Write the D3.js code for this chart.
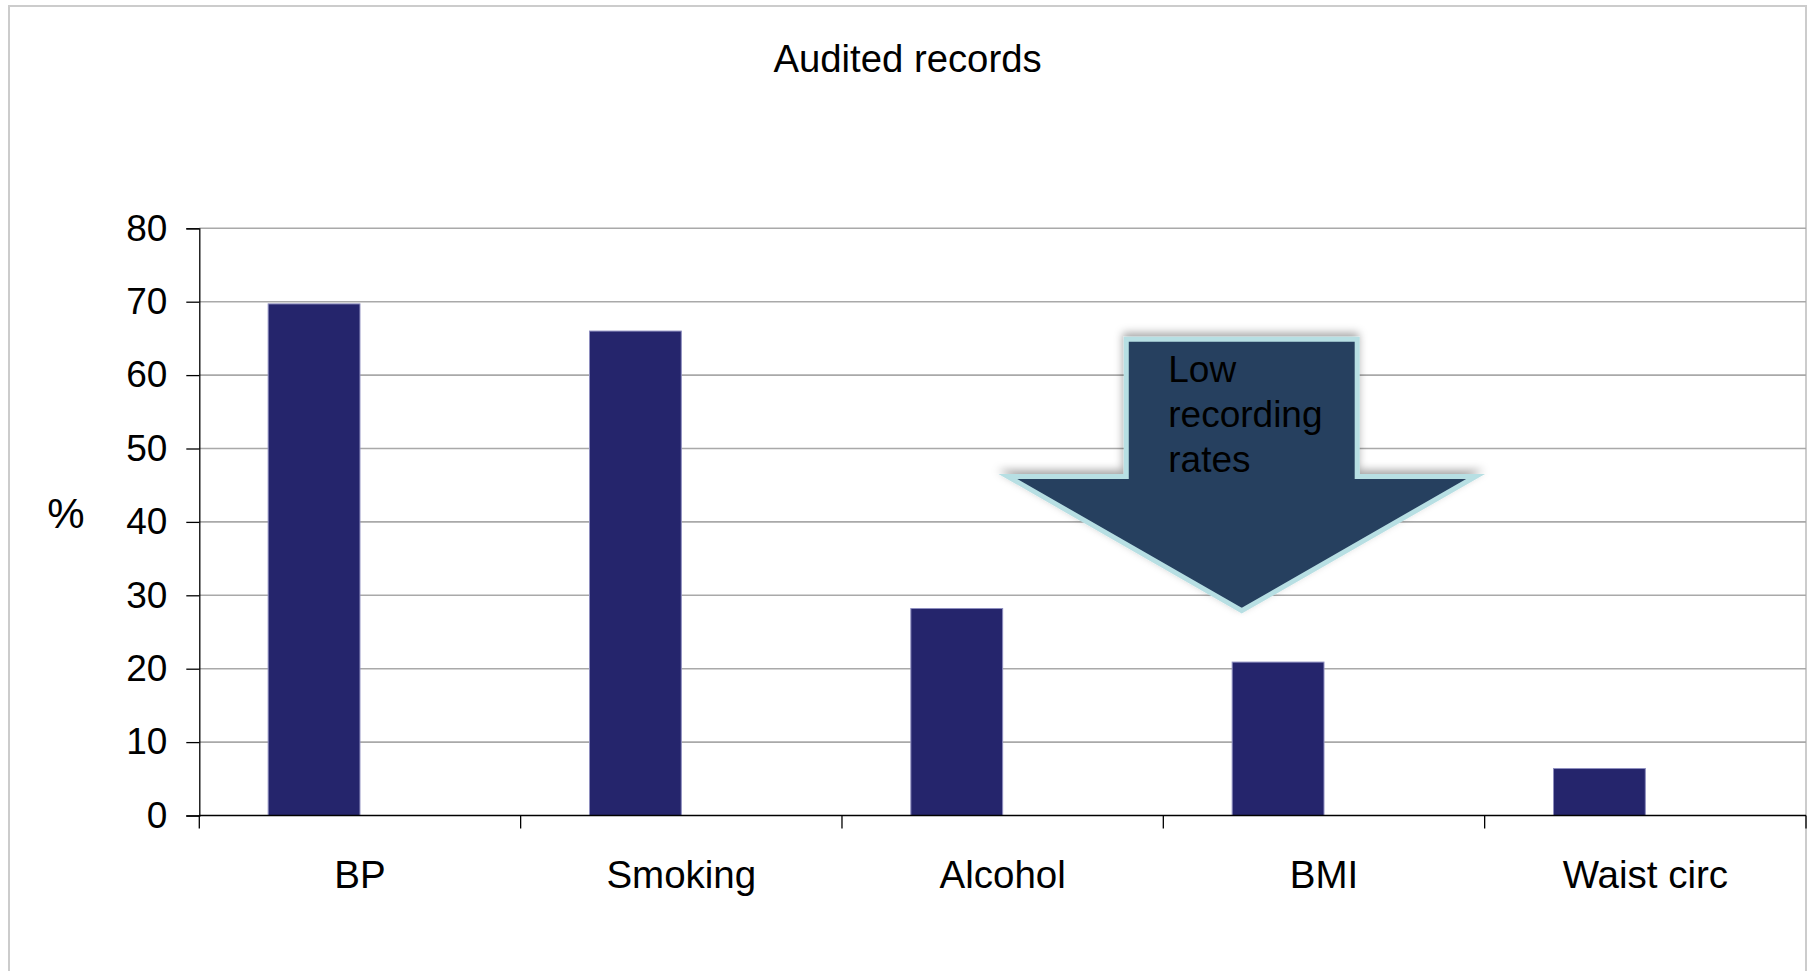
<!DOCTYPE html>
<html>
<head>
<meta charset="utf-8">
<script src="https://cdn.jsdelivr.net/npm/d3@7"></script>
<style>
  html, body { margin: 0; padding: 0; background: #ffffff; }
  svg { display: block; font-family: "Liberation Sans", Arial, sans-serif; }
</style>
</head>
<body>
<svg id="chart" width="1810" height="971"></svg>
<script>
// Share of audited records with each measure recorded (%)
const categories = ["BP", "Smoking", "Alcohol", "BMI", "Waist circ"];
const recorded = [69.7, 66.0, 28.2, 20.9, 6.4];
const seriesKeys = ["Recorded", "Other"];
const yTicks = [0, 10, 20, 30, 40, 50, 60, 70, 80];
const titleText = "Audited records";
const yLabel = "%";
const calloutLines = ["Low", "recording", "rates"];

const svg = d3.select("#chart");
const W = 1810, H = 971;
const frame = { left: 9, top: 6, right: 1806 };
const plot = { left: 199.3, right: 1806, top: 228.3, bottom: 815.5 };

// Chart-area frame
svg.append("rect")
  .attr("x", frame.left).attr("y", frame.top)
  .attr("width", frame.right - frame.left)
  .attr("height", H + 20)
  .attr("fill", "#ffffff")
  .attr("stroke", "#cccccc")
  .attr("stroke-width", 2);

const x = d3.scaleBand().domain(categories).range([plot.left, plot.right]).padding(0);
const xSub = d3.scaleBand().domain(seriesKeys).range([0, x.bandwidth()])
  .paddingInner(0).paddingOuter(0.75);
const y = d3.scaleLinear().domain([0, 80]).range([plot.bottom, plot.top]);
// continuous category position, used to place the callout arrow
const xPos = d3.scaleLinear().domain([0, categories.length]).range([plot.left, plot.right]);

// Gridlines
svg.append("g")
  .selectAll("line")
  .data(yTicks.filter(t => t > 0))
  .join("line")
  .attr("x1", plot.left).attr("x2", plot.right)
  .attr("y1", d => y(d)).attr("y2", d => y(d))
  .attr("stroke", "#a9a9a9")
  .attr("stroke-width", 1.6);

// Bars
svg.append("g")
  .selectAll("rect")
  .data(categories.map((c, i) => ({ c, v: recorded[i] })))
  .join("rect")
  .attr("x", d => x(d.c) + xSub("Recorded"))
  .attr("y", d => y(d.v))
  .attr("width", xSub.bandwidth())
  .attr("height", d => y(0) - y(d.v))
  .attr("fill", "#25256c")
  .attr("stroke", "#8e8ebf")
  .attr("stroke-width", 1);

// Y axis
const yAxis = svg.append("g")
  .attr("transform", `translate(${plot.left},0)`)
  .call(d3.axisLeft(y).tickValues(yTicks).tickSize(13).tickPadding(19).tickFormat(d3.format("d")));
yAxis.select(".domain").attr("stroke", "#000").attr("stroke-width", 1.3);
yAxis.selectAll(".tick line").attr("stroke", "#000").attr("stroke-width", 1.3);
yAxis.selectAll(".tick text")
  .attr("font-size", 37)
  .attr("font-family", "Liberation Sans, Arial, sans-serif")
  .attr("fill", "#000");

// X axis: ticks on the category boundaries, labels centred in each band
const boundaries = d3.range(categories.length + 1);
const xAxisG = svg.append("g").attr("transform", `translate(0,${plot.bottom})`);
xAxisG.append("line")
  .attr("x1", plot.left).attr("x2", plot.right)
  .attr("stroke", "#000").attr("stroke-width", 1.3);
xAxisG.selectAll("line.tk")
  .data(boundaries)
  .join("line")
  .attr("class", "tk")
  .attr("x1", d => xPos(d)).attr("x2", d => xPos(d))
  .attr("y1", 0).attr("y2", 13)
  .attr("stroke", "#000").attr("stroke-width", 1.3);
xAxisG.selectAll("text")
  .data(categories)
  .join("text")
  .attr("x", d => x(d) + x.bandwidth() / 2)
  .attr("y", 72)
  .attr("text-anchor", "middle")
  .attr("font-size", 38.5)
  .attr("fill", "#000")
  .text(d => d);

// Title and axis label
svg.append("text")
  .attr("x", (frame.left + frame.right) / 2)
  .attr("y", 72)
  .attr("text-anchor", "middle")
  .attr("font-size", 38.3)
  .attr("fill", "#000")
  .text(titleText);

svg.append("text")
  .attr("x", 66)
  .attr("y", 528)
  .attr("text-anchor", "middle")
  .attr("font-size", 42)
  .attr("fill", "#000")
  .text(yLabel);

// Callout arrow pointing down at the low-recording measures
const arrow = { center: 3.244, halfShaft: 0.3593, halfHead: 0.728, top: 64.9, shoulder: 46.2, tip: 27.9 };
const defs = svg.append("defs");
const shadow = defs.append("filter").attr("id", "arrowShadow")
  .attr("x", "-20%").attr("y", "-20%").attr("width", "140%").attr("height", "140%");
shadow.append("feDropShadow")
  .attr("dx", -1).attr("dy", -4)
  .attr("stdDeviation", 4)
  .attr("flood-color", "#000")
  .attr("flood-opacity", 0.35);

const arrowPts = [
  [arrow.center - arrow.halfShaft, arrow.top],
  [arrow.center + arrow.halfShaft, arrow.top],
  [arrow.center + arrow.halfShaft, arrow.shoulder],
  [arrow.center + arrow.halfHead, arrow.shoulder],
  [arrow.center, arrow.tip],
  [arrow.center - arrow.halfHead, arrow.shoulder],
  [arrow.center - arrow.halfShaft, arrow.shoulder]
].map(([i, v]) => [xPos(i), y(v)]);

svg.append("polygon")
  .attr("points", arrowPts.map(p => p.join(",")).join(" "))
  .attr("fill", "#263f5f")
  .attr("stroke", "#b7dfe3")
  .attr("stroke-width", 5)
  .attr("stroke-linejoin", "miter")
  .attr("filter", "url(#arrowShadow)");

const callout = svg.append("text")
  .attr("x", xPos(arrow.center - arrow.halfShaft) + 42)
  .attr("y", 381.7)
  .attr("font-size", 37)
  .attr("fill", "#000");
callout.selectAll("tspan")
  .data(calloutLines)
  .join("tspan")
  .attr("x", xPos(arrow.center - arrow.halfShaft) + 42)
  .attr("dy", (d, i) => i === 0 ? 0 : 45)
  .text(d => d);
</script>
</body>
</html>
